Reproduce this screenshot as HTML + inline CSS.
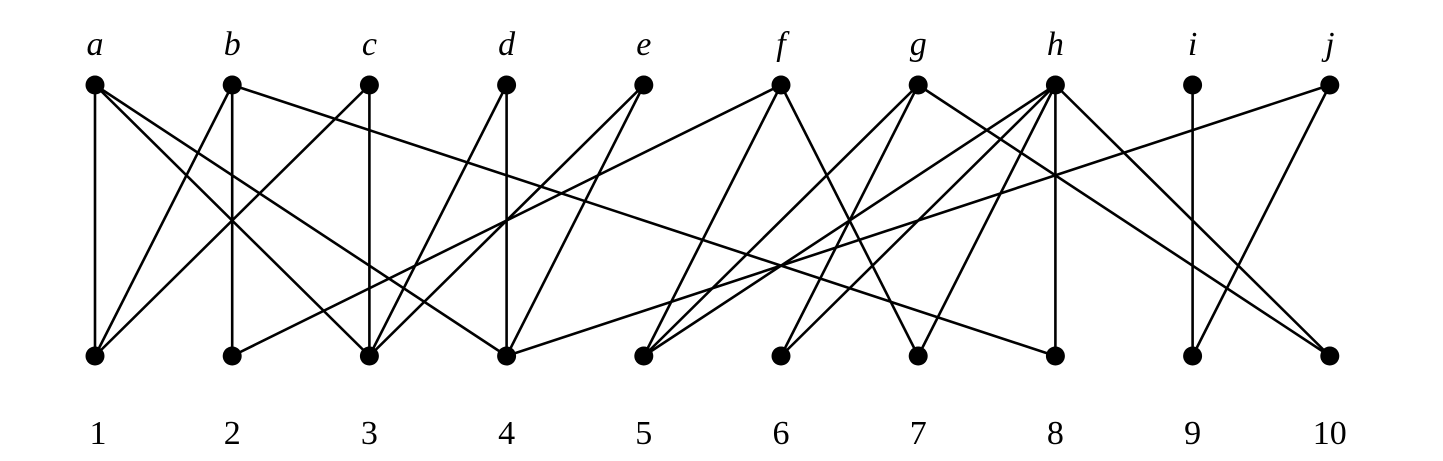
<!DOCTYPE html>
<html><head><meta charset="utf-8"><style>
html,body{margin:0;padding:0;background:#fff;}
svg{display:block;}
</style></head><body>
<svg id="chart" width="1443" height="461" viewBox="0 0 1443 461" xmlns="http://www.w3.org/2000/svg">
<g id="edges"></g><g id="nodes"></g><g id="labels"></g>
</svg>
<script>
const topNames = ["a","b","c","d","e","f","g","h","i","j"];
const bottomNames = ["1","2","3","4","5","6","7","8","9","10"];
const edgeTop = ["a","a","a","b","b","b","c","c","d","d","e","e","f","f","f","g","g","g","h","h","h","h","h","i","j","j"];
const edgeBottom = ["1","3","4","1","2","8","1","3","3","4","3","4","2","5","7","5","6","10","5","6","7","8","10","9","4","9"];

const NS="http://www.w3.org/2000/svg";
const x0=95, dx=137.2, yTop=85, yBot=356;
function xPos(i){return x0+i*dx;}
const eg=document.getElementById("edges"), ng=document.getElementById("nodes"), lg=document.getElementById("labels");
for(let k=0;k<edgeTop.length;k++){
  const l=document.createElementNS(NS,"line");
  l.setAttribute("x1",xPos(topNames.indexOf(edgeTop[k])));
  l.setAttribute("y1",yTop);
  l.setAttribute("x2",xPos(bottomNames.indexOf(edgeBottom[k])));
  l.setAttribute("y2",yBot);
  l.setAttribute("stroke","#000");l.setAttribute("stroke-width","2.6");
  
  
  eg.appendChild(l);
}
function node(x,y,name){
  const c=document.createElementNS(NS,"circle");
  c.setAttribute("cx",x);c.setAttribute("cy",y);c.setAttribute("r","9.5");c.setAttribute("fill","#000");
  
  
  ng.appendChild(c);
}
function label(x,y,t,italic,name){
  const e=document.createElementNS(NS,"text");
  e.setAttribute("x",x);e.setAttribute("y",y);e.setAttribute("text-anchor","middle");
  e.setAttribute("font-family","'Liberation Serif', serif");e.setAttribute("font-size","34");
  if(italic)e.setAttribute("font-style","italic");
  e.textContent=t;
  
  
  lg.appendChild(e);
}
topNames.forEach((n,i)=>{node(xPos(i),yTop,'node-'+n);label(xPos(i),55,n,true,'label-'+n);});
bottomNames.forEach((n,i)=>{node(xPos(i),yBot,'node-'+n);label(xPos(i)+(i==0?3:0),444,n,false,'label-'+n);});
</script>
</body></html>
